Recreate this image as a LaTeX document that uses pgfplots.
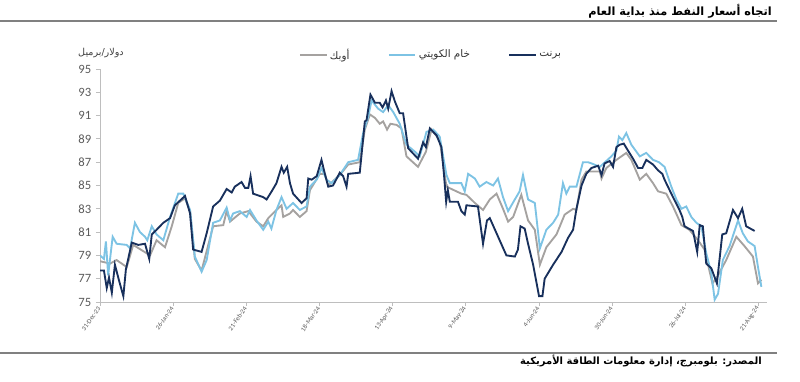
\documentclass[border=0pt]{standalone}
\usepackage{fontspec}
\usepackage{pgfplots}
\usepackage{pgfplotstable}
\pgfplotsset{compat=1.18}
\setmainfont{Carlito}
\newfontfamily\arabicfont[Script=Arabic]{DejaVu Sans}
\TeXXeTstate=1
\definecolor{brent}{RGB}{24,48,92}
\definecolor{kuwait}{RGB}{125,195,228}
\definecolor{opec}{RGB}{165,162,160}
\definecolor{axgray}{RGB}{190,190,190}
\definecolor{txtgray}{RGB}{90,90,90}

\pgfplotstableread{
d v
0 77.7
1.4 77.7
2.4 76.2
3.2 77.1
4.2 75.8
5.3 78.2
6.7 76.9
8.3 75.5
9.2 77.8
11.3 80.1
13.6 79.9
16.0 80.0
17.5 78.7
18.4 80.8
20.1 81.2
22.5 81.8
24.9 82.2
26.6 83.3
30.2 84.1
32.0 82.6
33.1 79.5
36.1 79.3
37.9 80.9
40.2 83.2
42.6 83.7
45.0 84.7
46.8 84.4
47.9 84.9
50.3 85.3
51.5 84.8
52.7 84.8
53.5 85.8
54.4 84.3
58.0 84.0
59.2 83.8
61.0 84.5
62.7 85.2
64.5 86.6
65.3 86.1
66.5 86.6
67.5 85.2
68.6 84.3
71.6 83.5
73.4 83.9
74.0 85.6
75.2 85.5
77.0 85.8
78.7 87.2
79.9 86.0
81.1 84.9
82.8 85.0
85.2 86.1
86.4 85.8
87.6 84.9
88.2 86.0
92.3 86.1
94.1 90.5
94.7 90.6
96.1 92.8
97.7 92.1
99.4 92.1
100.4 91.7
101.6 92.3
102.4 91.6
103.6 93.1
104.8 92.2
106.5 91.2
107.7 91.2
109.5 88.2
113.0 87.3
114.8 88.7
115.8 88.3
117.2 89.9
119.6 89.3
121.3 88.3
122.2 86.0
123.0 83.6
123.6 84.6
124.3 83.6
127.2 83.6
128.4 82.8
129.6 82.5
130.2 83.3
134.3 83.2
136.1 80.0
137.5 82.0
138.5 82.2
140.9 80.9
144.4 79.0
147.4 78.9
148.5 79.5
149.4 81.5
150.9 81.3
152.1 80.0
153.9 78.2
156.0 75.5
157.2 75.5
158.0 77.0
161.0 78.2
164.0 79.3
166.3 80.5
168.1 81.2
169.3 83.0
171.1 85.0
172.8 86.0
174.6 86.5
177.0 86.7
178.2 85.9
179.3 86.9
181.1 87.1
182.3 86.6
183.5 88.3
184.7 88.5
186.1 88.6
187.6 88.0
189.4 87.3
191.2 86.5
192.7 86.5
194.1 87.2
196.5 86.8
198.3 86.3
199.8 86.0
200.6 85.5
203.6 84.0
205.9 82.9
206.9 82.3
207.7 81.5
210.7 81.1
212.2 79.3
213.1 81.6
214.2 81.5
215.4 78.3
217.2 77.9
219.2 76.6
221.1 80.8
222.5 80.9
224.9 82.9
226.7 82.2
228.2 83.0
229.6 81.5
232.6 81.1
}\brenttab

\pgfplotstableread{
d v
0 79.0
1.4 78.7
2.1 80.2
2.9 77.3
4.5 80.6
5.9 80.0
9.5 79.9
10.7 79.6
12.4 81.8
14.2 81.0
16.0 80.6
16.8 80.3
18.4 81.5
20.1 80.8
22.5 80.3
24.9 82.3
27.8 84.3
29.6 84.3
32.0 82.9
33.7 78.9
36.1 77.6
37.9 78.6
40.2 81.8
42.6 82.0
45.0 83.1
46.2 82.0
47.3 82.6
49.7 82.8
52.1 82.3
53.3 82.9
55.6 82.0
58.0 81.2
59.8 81.9
60.9 81.3
62.7 82.9
64.5 84.0
66.3 83.0
68.6 83.5
71.0 82.9
73.4 83.2
74.6 84.9
77.0 85.5
78.7 86.5
80.5 85.5
82.3 85.2
85.2 85.9
88.2 87.0
91.7 87.2
93.5 89.5
95.3 90.9
96.5 92.3
98.8 91.6
100.6 91.3
102.4 91.9
104.2 91.3
106.5 90.3
108.9 88.5
111.9 87.9
113.6 87.5
116.0 89.6
118.4 89.8
120.7 89.2
123.1 85.9
124.3 85.2
128.4 85.2
129.6 84.5
130.8 86.0
133.2 85.6
134.9 84.9
137.3 85.3
139.7 85.0
141.4 85.6
143.2 84.0
145.0 82.8
147.4 83.8
149.1 84.5
150.3 85.9
152.1 83.8
154.5 83.5
156.3 79.6
158.6 81.2
161.0 81.8
162.8 82.5
164.5 85.2
165.7 84.3
166.9 84.9
169.3 84.9
171.6 87.0
173.4 87.0
174.6 86.9
177.6 86.6
181.7 87.5
183.5 88.0
184.4 89.2
185.6 88.9
187.0 89.5
188.8 88.5
191.8 87.5
194.1 87.8
196.5 87.2
198.6 87.0
200.6 86.6
203.0 84.9
204.8 83.8
206.6 83.0
208.3 83.2
210.1 82.3
211.9 81.8
213.7 81.5
215.4 79.2
217.2 77.5
218.4 75.2
219.6 75.7
221.3 78.6
223.7 79.8
226.7 82.0
228.4 80.9
230.2 80.2
232.6 79.8
233.8 78.0
235.0 76.3
}\kuwaittab

\pgfplotstableread{
d v
0 78.5
3.6 78.3
5.9 78.6
9.5 78.0
11.8 79.9
17.8 79.0
20.1 80.3
23.1 79.7
25.5 81.5
27.8 83.5
30.2 83.9
32.0 82.8
33.7 78.7
36.1 77.7
40.2 81.5
43.8 81.6
45.0 82.8
46.2 81.9
49.7 82.6
52.7 82.8
55.6 81.9
58.0 81.5
59.8 82.2
62.7 82.9
64.5 83.3
65.1 82.3
67.5 82.6
68.6 82.9
71.0 82.3
73.4 82.8
74.6 84.6
78.1 86.0
79.9 86.0
81.1 85.0
85.2 85.9
88.2 86.8
92.3 87.0
94.1 89.8
95.9 91.1
97.7 90.8
99.4 90.3
100.6 90.5
102.0 89.8
103.2 90.3
105.4 90.2
107.1 89.9
108.9 87.5
113.0 86.6
115.8 87.9
117.8 89.8
120.7 88.9
123.1 84.9
128.4 84.3
130.2 84.2
133.2 83.5
136.1 82.9
138.5 83.8
140.9 84.3
143.2 83.0
145.0 81.9
146.8 82.3
149.7 84.2
152.1 82.0
154.5 81.2
156.3 78.2
158.6 79.7
162.2 80.8
165.1 82.5
168.1 83.0
169.3 82.9
171.1 85.5
172.8 86.2
177.6 86.2
178.2 85.6
179.9 86.5
183.5 87.2
187.0 87.8
188.8 87.2
191.8 85.5
194.1 86.0
196.5 85.2
198.3 84.5
201.2 84.3
203.6 83.2
206.6 81.6
209.4 81.2
212.5 80.3
214.8 79.5
217.6 76.6
219.4 77.2
222.5 78.6
226.1 80.6
229.0 79.8
232.0 78.9
233.8 76.6
235.0 76.9
}\opectab

\begin{document}
\begin{tikzpicture}[x=0.75pt,y=0.75pt]
\path[use as bounding box] (0,0) rectangle (800,382);
% title and rules
\draw[gray, line width=0.8pt] (0,361) -- (777,361);
\node[anchor=east, inner sep=0pt, font=\arabicfont\bfseries\fontsize{8.5}{10}\selectfont] at (772,371) {\beginR اتجاه أسعار النفط منذ بداية العام\endR};
\draw[gray, line width=0.8pt] (0,29) -- (777,29);
\node[anchor=east, inner sep=0pt, font=\arabicfont\bfseries\fontsize{7.5}{9}\selectfont] at (762,21) {\beginR المصدر: بلومبرج، إدارة معلومات الطاقة الأمريكية\endR};
\node[anchor=center, inner sep=0pt, text=black!75, font=\arabicfont\fontsize{7.2}{8}\selectfont] at (101,329) {\beginR دولار/برميل\endR};
\begin{axis}[
  at={(75pt,60pt)}, anchor=south west,
  scale only axis, width=500.25pt, height=174.75pt,
  xmin=0, xmax=237, ymin=75, ymax=95,
  axis x line=bottom, axis y line=left,
  axis line style={axgray, -},
  tick style={axgray, line width=0.6pt},
  tick align=outside, major tick length=3pt,
  ytick={75,77,...,95},
  xtick={0,26,52,78,104,130,156,182,208,234},
  xticklabels={31-Dec-23,26-Jan-24,21-Feb-24,18-Mar-24,13-Apr-24,9-May-24,4-Jun-24,30-Jun-24,26-Jul-24,21-Aug-24},
  xticklabel style={rotate=55, anchor=east, font=\fontsize{5}{6}\selectfont, text=txtgray, inner sep=1pt},
  yticklabel style={font=\fontsize{9.5}{11}\selectfont, text=txtgray},
  /pgf/number format/assume math mode=true,
  legend columns=3,
  legend style={at={(0.497,1.06)}, anchor=center, draw=none, fill=none,
    font=\arabicfont\fontsize{7.8}{9}\selectfont, text=black!80,
    /tikz/every even column/.append style={column sep=27pt}},
  legend image code/.code={\draw[#1, line width=1pt] (0pt,0pt) -- (20pt,0pt);},
]
\addplot[opec, line width=1.4pt] table[x=d,y=v] {\opectab};
\addlegendentry{\beginR أوبك\endR}
\addplot[kuwait, line width=1.4pt] table[x=d,y=v] {\kuwaittab};
\addlegendentry{\beginR خام الكويتي\endR}
\addplot[brent, line width=1.4pt] table[x=d,y=v] {\brenttab};
\addlegendentry{\beginR برنت\endR}
\end{axis}
\end{tikzpicture}
\end{document}
